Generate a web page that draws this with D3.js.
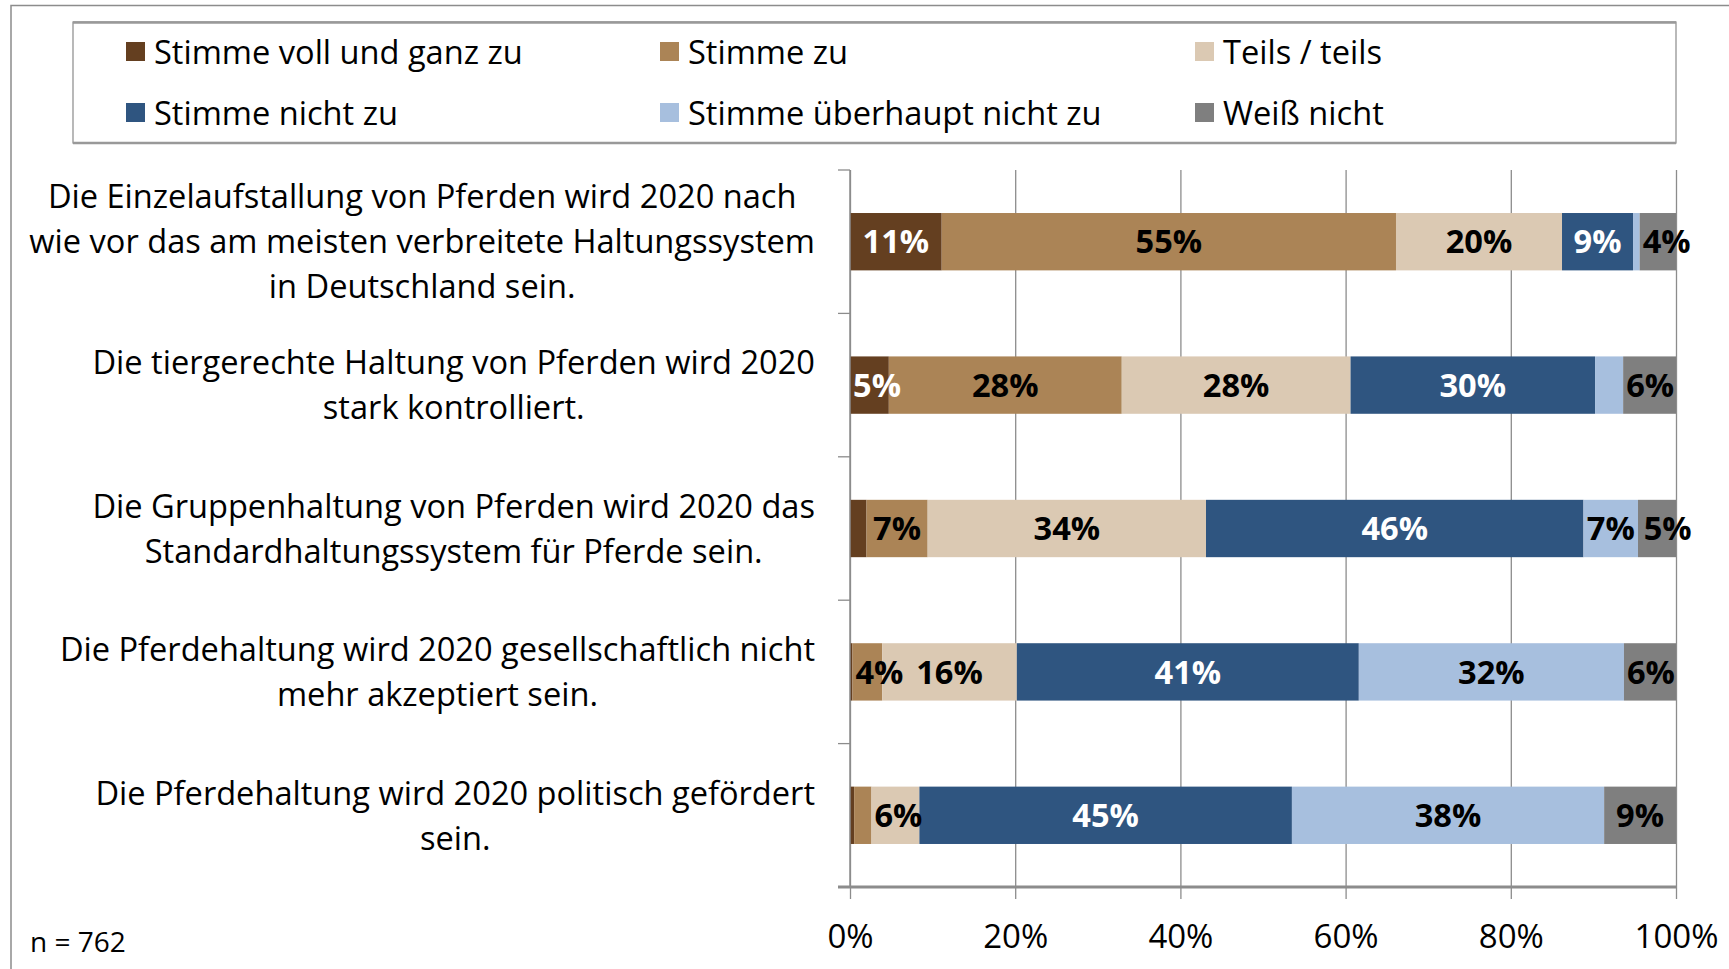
<!DOCTYPE html>
<html>
<head>
<meta charset="utf-8">
<script src="https://cdn.jsdelivr.net/npm/d3@7"></script>
<style>
  body { margin: 0; background: #fff; }
  svg { display: block; font-family: "Open Sans", "Noto Sans", sans-serif; }
</style>
</head>
<body>
<svg id="chart" width="1729" height="969"></svg>
<script>
// categories (line breaks as in the original)
var categories = [
    ["Die Einzelaufstallung von Pferden wird 2020 nach", "wie vor das am meisten verbreitete Haltungssystem", "in Deutschland sein."],
    ["Die tiergerechte Haltung von Pferden wird 2020", "stark kontrolliert."],
    ["Die Gruppenhaltung von Pferden wird 2020 das", "Standardhaltungssystem für Pferde sein."],
    ["Die Pferdehaltung wird 2020 gesellschaftlich nicht", "mehr akzeptiert sein."],
    ["Die Pferdehaltung wird 2020 politisch gefördert", "sein."]
];

var seriesNames = ["Stimme voll und ganz zu", "Stimme zu", "Teils / teils",
                   "Stimme nicht zu", "Stimme überhaupt nicht zu", "Weiß nicht"];
var seriesColors = ["#643f20", "#ab8456", "#dbc9b3", "#2f5580", "#a7bfde", "#7f7f7f"];
var labelColors = ["#fff", "#000", "#000", "#fff", "#000", "#000"];

// percentages per series, one value per category
var volZu      = [11.1, 4.7, 2.0, 0.3, 0.5];
var zu         = [55.0, 28.2, 7.4, 3.6, 2.1];
var teils      = [20.1, 27.7, 33.7, 16.3, 5.8];
var nichtZu    = [8.6, 29.6, 45.7, 41.4, 45.1];
var garNichtZu = [0.8, 3.4, 6.6, 32.1, 37.8];
var weissNicht = [4.4, 6.4, 4.6, 6.3, 8.7];

var tickValues = [0, 0.2, 0.4, 0.6, 0.8, 1];
var sampleNote = "n = 762";

var series = [volZu, zu, teils, nichtZu, garNichtZu, weissNicht];

var svg = d3.select("#chart");
var plotL = 850, plotR = 1676, plotT = 170, plotB = 887;
var fs = 32.6;

// outer frame
svg.append("path")
    .attr("d", "M11,969 L11,5.5 L1729,5.5")
    .attr("fill", "none").attr("stroke", "#8c8c8c").attr("stroke-width", 1.5);

// legend
var lg = svg.append("g");
lg.append("rect")
    .attr("x", 73).attr("y", 22).attr("width", 1603).attr("height", 121)
    .attr("fill", "#fff").attr("stroke", "#8a8a8a").attr("stroke-width", 1.2);
lg.append("line").attr("x1", 73).attr("x2", 1676).attr("y1", 22.5).attr("y2", 22.5)
    .attr("stroke", "#999").attr("stroke-width", 2.5);
lg.append("line").attr("x1", 73).attr("x2", 1676).attr("y1", 143).attr("y2", 143)
    .attr("stroke", "#999").attr("stroke-width", 2.5);

var legendCols = [126, 660, 1195];
var legendRows = [52, 113];
seriesNames.forEach(function(name, i){
    var gx = legendCols[i % 3], gy = legendRows[Math.floor(i / 3)];
    lg.append("rect")
        .attr("x", gx).attr("y", gy - 10).attr("width", 19).attr("height", 19)
        .attr("fill", seriesColors[i]);
    lg.append("text")
        .attr("x", gx + 28).attr("y", gy)
        .attr("dy", "0.36em")
        .attr("font-size", fs)
        .attr("fill", "#000")
        .text(name);
});

// scales
var x = d3.scaleLinear().domain([0, 1]).range([plotL, plotR]);
var y = d3.scaleBand().domain(d3.range(categories.length)).range([plotT, plotB])
    .paddingInner(0.6).paddingOuter(0.3);

// gridlines (extend a bit below the axis like tick marks)
svg.append("g")
    .attr("transform", "translate(0," + plotB + ")")
    .call(d3.axisBottom(x).tickValues(tickValues).tickSize(-(plotB - plotT)).tickFormat(""))
    .call(function(g){
        g.select(".domain").remove();
        g.selectAll("line").attr("stroke", "#8c8c8c").attr("stroke-width", 1.3);
    });

svg.append("g")
    .attr("transform", "translate(0," + plotB + ")")
    .call(d3.axisBottom(x).tickValues(tickValues).tickSize(12).tickPadding(26).tickFormat(d3.format(".0%")))
    .call(function(g){
        g.select(".domain").remove();
        g.selectAll("line").attr("stroke", "#8c8c8c").attr("stroke-width", 1.3);
        g.selectAll("text").attr("font-size", 33).attr("fill", "#000")
            .attr("font-family", "\"Open Sans\", sans-serif");
    });

// stacked bars
var stackData = categories.map(function(c, ci){
    var row = {idx: ci};
    series.forEach(function(s, si){ row[si] = s[ci] / 100; });
    return row;
});
var stacked = d3.stack().keys(d3.range(series.length))(stackData);

var layers = svg.append("g").selectAll("g")
    .data(stacked)
    .enter().append("g")
    .attr("fill", function(d, i){ return seriesColors[i]; });

layers.selectAll("rect")
    .data(function(d){ return d; })
    .enter().append("rect")
    .attr("x", function(d){ return x(d[0]); })
    .attr("y", function(d){ return y(d.data.idx); })
    .attr("width", function(d){ return x(d[1]) - x(d[0]); })
    .attr("height", y.bandwidth());

// vertical axis with band ticks on the left
var yEdges = d3.range(categories.length + 1).map(function(i){
    return plotT + i * (plotB - plotT) / categories.length;
});
svg.append("line")
    .attr("x1", plotL).attr("x2", plotL).attr("y1", plotT).attr("y2", plotB)
    .attr("stroke", "#8c8c8c").attr("stroke-width", 1.5);
svg.append("g").selectAll("line")
    .data(yEdges).enter().append("line")
    .attr("x1", plotL - 12).attr("x2", plotL)
    .attr("y1", function(d){ return d; }).attr("y2", function(d){ return d; })
    .attr("stroke", "#8c8c8c").attr("stroke-width", 1.3);
// horizontal axis line
svg.append("line")
    .attr("x1", plotL - 12).attr("x2", plotR).attr("y1", plotB).attr("y2", plotB)
    .attr("stroke", "#8c8c8c").attr("stroke-width", 3);

// value labels: centred, but nudged so they stay in the bar and don't collide
var labelG = svg.append("g");
categories.forEach(function(c, ci){
    var lastRight = -Infinity;
    stacked.forEach(function(layer, si){
        var d = layer[ci];
        var v = Math.round((d[1] - d[0]) * 100);
        if (v < 4) return;
        var t = labelG.append("text")
            .attr("y", y(ci) + y.bandwidth() / 2)
            .attr("dy", "0.36em")
            .attr("font-size", fs)
            .attr("font-weight", "bold")
            .attr("fill", labelColors[si])
            .text(v + "%");
        var w = t.node().getComputedTextLength();
        var lx = (x(d[0]) + x(d[1])) / 2 - w / 2;
        lx = Math.max(lx, x(d[0]) + 3, lastRight + 9);
        t.attr("x", lx);
        lastRight = lx + w;
    });
});

// category labels, centred as a block ending near the axis
var catG = svg.append("g");
var lineH = 45;
categories.forEach(function(lines, ci){
    var cy = y(ci) + y.bandwidth() / 2;
    var t = catG.append("text").attr("text-anchor", "middle").attr("font-size", fs).attr("fill", "#000");
    var spans = lines.map(function(l, li){
        return t.append("tspan")
            .attr("y", cy + (li - (lines.length - 1) / 2) * lineH)
            .attr("dy", "0.36em")
            .text(l);
    });
    var w = d3.max(spans, function(s){ return s.node().getComputedTextLength(); });
    spans.forEach(function(s){ s.attr("x", 815 - w / 2); });
});

svg.append("text")
    .attr("x", 30).attr("y", 952)
    .attr("font-size", 28)
    .attr("fill", "#000")
    .text(sampleNote);
</script>
</body>
</html>
